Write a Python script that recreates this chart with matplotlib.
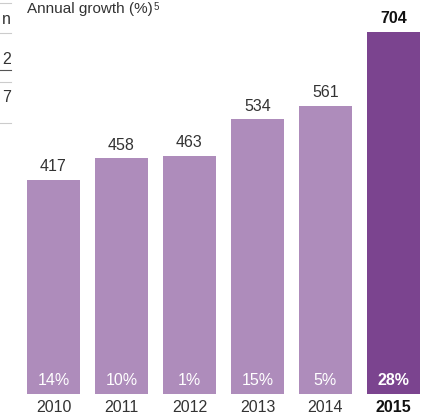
import matplotlib.pyplot as plt
from matplotlib.lines import Line2D

plt.rcParams['font.family'] = ['Liberation Sans', 'DejaVu Sans']

years = ['2010', '2011', '2012', '2013', '2014', '2015']
values = [417, 458, 463, 534, 561, 704]
growth = ['14%', '10%', '1%', '15%', '5%', '28%']

light = '#ae8cbb'
dark = '#7b448f'
txt = '#333333'

W, H = 436, 416
fig = plt.figure(figsize=(W / 100, H / 100), dpi=100)
ax = fig.add_axes([27 / W, 1 - 394 / H, 393 / W, 394 / H])

w = 53 / 68
x = list(range(len(years)))
colors = [light] * (len(years) - 1) + [dark]
bars = ax.bar(x, values, width=w, color=colors)

ax.set_xlim(-w / 2, len(years) - 1 + w / 2)
ax.set_ylim(0, 394 / 0.5142)
ax.axis('off')

last = len(years) - 1
for i, v in enumerate(values):
    bold = 'bold' if i == last else 'normal'
    col = '#111111' if i == last else txt
    ax.annotate(str(v), (x[i], v), xytext=(0, 4), textcoords='offset points',
                ha='center', va='bottom', fontsize=11.5, color=col, fontweight=bold)
    ax.annotate(growth[i], (x[i], 0), xytext=(0, 9.5), textcoords='offset points',
                ha='center', va='center', fontsize=11.5, color='white', fontweight=bold)
    ax.annotate(years[i], (x[i], 0), xytext=(0, -9.5), textcoords='offset points',
                ha='center', va='center', fontsize=11.5, color=col, fontweight=bold)

t = fig.text(27 / W, 1 - 2 / H, 'Annual growth (%)', fontsize=11, color=txt,
             ha='left', va='top')
fig.canvas.draw()
bb = t.get_window_extent()
fig.text((bb.x1 + 1) / W, bb.y1 / H, '5', fontsize=7, color=txt, ha='left', va='top')

# clipped bits of the neighbouring panel on the left edge
for yy, c in [(3, '#cccccc'), (33, '#cccccc'), (70, '#555555'), (82, '#cccccc'), (123, '#cccccc')]:
    fig.add_artist(Line2D([0, 11 / W], [1 - yy / H] * 2, color=c, lw=0.8,
                          transform=fig.transFigure))
for s, yy in [('n', 20), ('2', 60), ('7', 97)]:
    fig.text(11 / W, 1 - yy / H, s, fontsize=11.5, color=txt, ha='right', va='center')

fig.savefig('out.png', dpi=100)
